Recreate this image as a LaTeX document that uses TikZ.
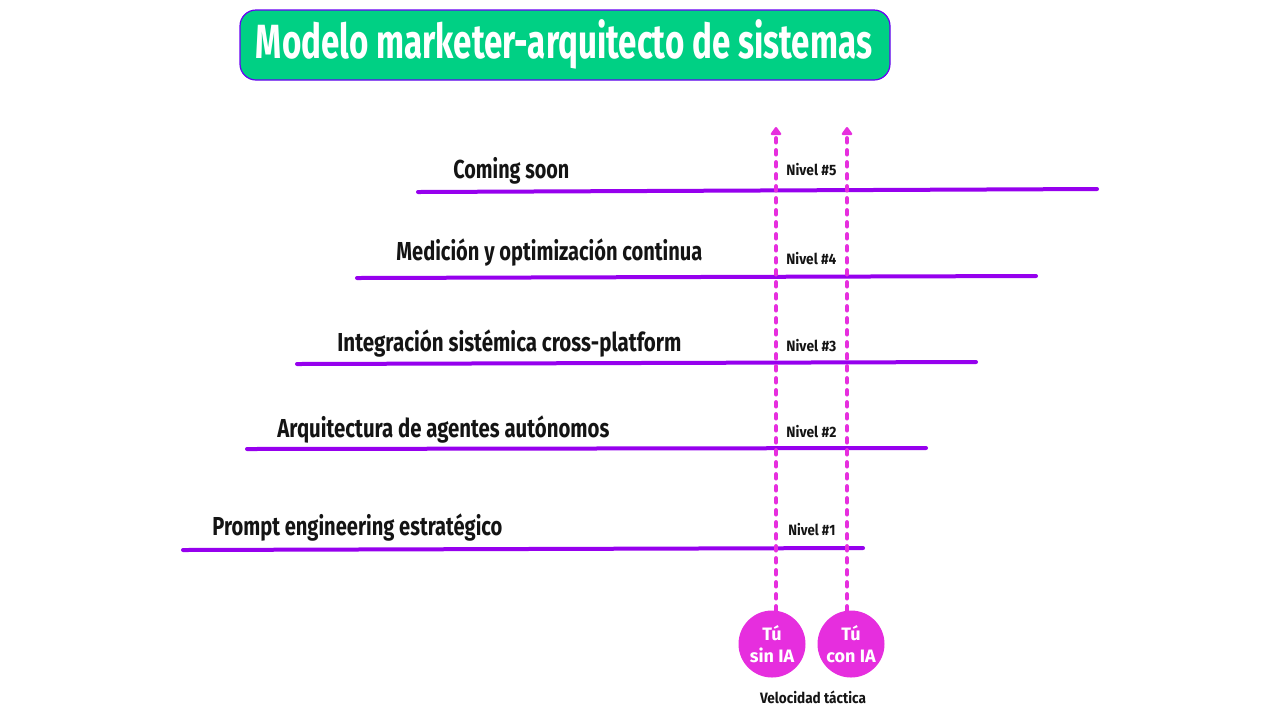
\documentclass[tikz,border=0pt]{standalone}
\usepackage{fontspec}
\setmainfont{Fira Sans}
\usetikzlibrary{arrows.meta}
\definecolor{lvl}{RGB}{150,0,238}
\definecolor{mag}{RGB}{230,46,222}
\definecolor{ttl}{RGB}{0,208,132}
\definecolor{ink}{RGB}{20,20,20}
\newcommand{\fitw}[2]{\resizebox{#1}{\height}{#2}}
\tikzset{
  levelline/.style={draw=lvl,line width=2pt,line cap=round},
  leveltext/.style={anchor=base west,inner sep=0pt,text=ink,font=\bfseries\fontsize{13}{15}\selectfont},
  niveltext/.style={anchor=base west,inner sep=0pt,text=ink,font=\bfseries\fontsize{7.5}{9}\selectfont},
  velarrow/.style={draw=mag,line width=2.4pt,dash pattern=on 1.8pt off 4.2pt,line cap=round,-{Triangle[length=4.5pt,width=6pt,round]}},
  who/.style={circle,fill=mag,minimum size=33.5pt,inner sep=0pt,text=white,align=center,font=\bfseries\fontsize{9}{11}\selectfont},
}
\begin{document}
\begin{tikzpicture}[x=0.5pt,y=-0.5pt]
\useasboundingbox[fill=white] (0,0) rectangle (1280,720);
% title
\node[draw=lvl!70!blue,line width=0.6pt,fill=ttl,rounded corners=8pt,minimum width=325pt,minimum height=35pt,inner sep=0pt] (title) at (565,45) {};
\node[text=white,font=\bfseries\fontsize{24}{28}\selectfont,inner sep=0pt] (titletext) at (564,44) {\fitw{308pt}{Modelo marketer-arquitecto de sistemas}};
% level lines
\coordinate (l5a) at (418,192); \coordinate (l5b) at (1097,189);
\coordinate (l4a) at (357,278); \coordinate (l4b) at (1036,276);
\coordinate (l3a) at (297,364); \coordinate (l3b) at (976,362);
\coordinate (l2a) at (247,449); \coordinate (l2b) at (926,448);
\coordinate (l1a) at (183,550); \coordinate (l1b) at (863,548);
\draw[levelline] (l5a) -- (l5b);
\draw[levelline] (l4a) -- (l4b);
\draw[levelline] (l3a) -- (l3b);
\draw[levelline] (l2a) -- (l2b);
\draw[levelline] (l1a) -- (l1b);
% level labels
\node[leveltext] (t5) at (453,178) {\fitw{58pt}{Coming soon}};
\node[leveltext] (t4) at (396,260) {\fitw{153pt}{Medición y optimización continua}};
\node[leveltext] (t3) at (337,351) {\fitw{172pt}{Integración sistémica cross-platform}};
\node[leveltext] (t2) at (277,437) {\fitw{166pt}{Arquitectura de agentes autónomos}};
\node[leveltext] (t1) at (212,535) {\fitw{145pt}{Prompt engineering estratégico}};
% nivel labels
\node[niveltext] (n5) at (786,175) {\fitw{25pt}{Nivel \#5}};
\node[niveltext] (n4) at (786,264) {\fitw{25pt}{Nivel \#4}};
\node[niveltext] (n3) at (786,351) {\fitw{25pt}{Nivel \#3}};
\node[niveltext] (n2) at (786,437) {\fitw{25pt}{Nivel \#2}};
\node[niveltext] (n1) at (788,535) {\fitw{23.5pt}{Nivel \#1}};
% circles
\node[who] (sin) at (772,644) {Tú\\sin IA};
\node[who] (con) at (851,644) {Tú\\con IA};
\coordinate (topsin) at (776,127);
\coordinate (topcon) at (847,127);
\draw[velarrow] (sin.north -| topsin) -- (topsin);
\draw[velarrow] (con.north -| topcon) -- (topcon);
\node[text=ink,font=\bfseries\fontsize{7.5}{9}\selectfont,inner sep=0pt] (vel) at (813,697) {\fitw{53pt}{Velocidad táctica}};
\end{tikzpicture}
\end{document}
